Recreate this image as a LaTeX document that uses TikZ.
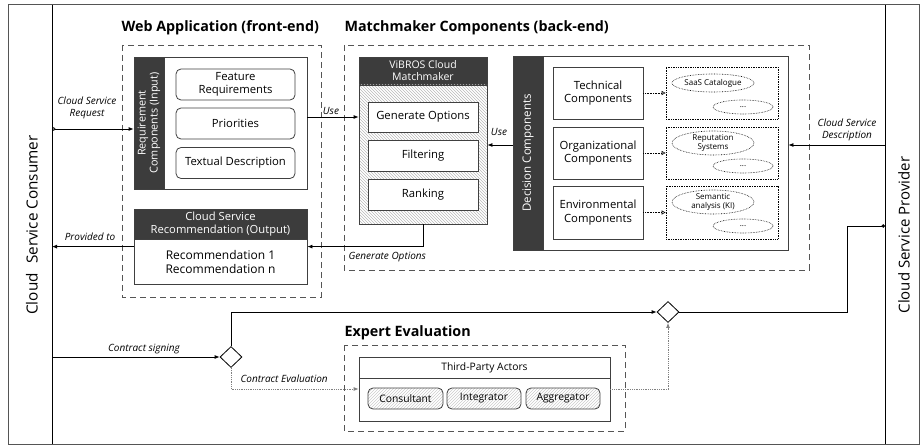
\documentclass[tikz,border=0pt]{standalone}
\usepackage{fontspec}
\setmainfont{Open Sans}
\usetikzlibrary{arrows.meta,shapes.geometric,patterns,calc}
\definecolor{hdr}{HTML}{3C3C3C}
\definecolor{bd}{HTML}{404040}
\definecolor{dsh}{HTML}{555555}
\begin{document}
\begin{tikzpicture}[x=1pt,y=-1pt,
  box/.style={draw=bd, line width=0.8pt, fill=white, inner sep=1pt, align=center, font=\fontsize{11.3}{13.3}\selectfont},
  rbox/.style={box, rounded corners=5pt},
  hdrbox/.style={draw=bd, line width=0.8pt, fill=hdr, text=white, align=center, inner sep=1pt},
  grp/.style={draw=dsh, dash pattern=on 6pt off 4pt, line width=0.9pt},
  ttl/.style={font=\bfseries\fontsize{14.3}{16}\selectfont, anchor=west},
  lbl/.style={font=\itshape\fontsize{10}{12.5}\selectfont, align=center},
  arr/.style={-{Latex[length=5pt,width=4pt]}, line width=0.8pt},
  dotarr/.style={densely dotted, line width=0.6pt, -{Triangle[open,length=4pt,width=4pt]}},
  ell/.style={draw, densely dotted, line width=0.6pt, ellipse, inner sep=0pt, font=\fontsize{8}{8.5}\selectfont, align=center},
  dbox/.style={draw, densely dotted, line width=0.7pt, minimum width=112pt, minimum height=52pt},
  hatch/.style={pattern=north west lines, pattern color=gray!55},
  hatch2/.style={pattern=north east lines, pattern color=gray!40},
]
\useasboundingbox (0,0) rectangle (920,446);
% outer frame and lanes
\draw[dsh, line width=1pt] (8,5) rectangle (919,444);
\coordinate (laneCt) at (52,5);
\coordinate (laneCb) at (52,444);
\coordinate (lanePt) at (885,5);
\coordinate (lanePb) at (885,444);
\draw[line width=0.9pt] (laneCt) -- (laneCb);
\draw[line width=0.9pt] (lanePt) -- (lanePb);
\node[rotate=90, font=\fontsize{15.3}{18}\selectfont] (consumer) at (32,225) {Cloud\hspace{0.6em}Service Consumer};
\node[rotate=90, font=\fontsize{15}{18}\selectfont] (provider) at (904,235) {Cloud Service Provider};

% Web application
\node[ttl] (webttl) at (118,28) {Web Application (front-end)};
\draw[grp] (122,45) rectangle (321,297);
\node[box, minimum width=173pt, minimum height=132pt] (req) at (220.5,123) {};
\node[hdrbox, rotate=90, minimum width=132pt, minimum height=30pt, font=\fontsize{10.8}{12}\selectfont] (reqbar) at (149,123) {Requirement\\Components (Input)};
\node[rbox, minimum width=119pt, minimum height=31pt] (feat) at (235.5,84.5) {Feature\\Requirements};
\node[rbox, minimum width=119pt, minimum height=31pt] (prio) at (235.5,123.5) {Priorities};
\node[rbox, minimum width=119pt, minimum height=31pt] (textd) at (235.5,163) {Textual Description};
\node[hdrbox, minimum width=173pt, minimum height=30pt, font=\fontsize{11.2}{13}\selectfont] (rechead) at (220.5,224) {Cloud Service\\Recommendation (Output)};
\node[box, minimum width=173pt, minimum height=45pt, font=\fontsize{12}{14}\selectfont] (recbody) at (220.5,261.5) {Recommendation 1\\Recommendation n};

% Matchmaker components
\node[ttl] (mmttl) at (341,28) {Matchmaker Components (back-end)};
\draw[grp] (344,45) rectangle (809,270);
\node[hdrbox, minimum width=128pt, minimum height=28pt, font=\fontsize{10.5}{12}\selectfont] (vihead) at (423,71) {ViBROS Cloud\\Matchmaker};
\node[draw=bd, line width=0.8pt, hatch, minimum width=128pt, minimum height=139pt] (vibody) at (423,154.5) {};
\node[box, minimum width=110pt, minimum height=30pt] (gen) at (423,117) {Generate Options};
\node[box, minimum width=110pt, minimum height=31pt] (filt) at (423,155.5) {Filtering};
\node[box, minimum width=110pt, minimum height=31pt] (rank) at (423,194.5) {Ranking};

\node[box, minimum width=245pt, minimum height=194pt] (decbox) at (665.5,153) {};
\node[hdrbox, rotate=90, minimum width=194pt, minimum height=30pt, font=\fontsize{11.5}{13}\selectfont] (decbar) at (528,153) {Decision Components};
\node[box, minimum width=90pt, minimum height=52pt] (tech) at (598,93) {Technical\\Components};
\node[box, minimum width=90pt, minimum height=52pt] (org) at (598,153) {Organizational\\Components};
\node[box, minimum width=90pt, minimum height=53pt] (env) at (598,212.5) {Environmental\\Components};
\node[dbox] (d1box) at (722,93) {};
\node[dbox] (d2box) at (722,153) {};
\node[dbox, minimum height=53pt] (d3box) at (722,212.5) {};
\node[ell, minimum width=82pt, minimum height=18pt] (e1) at (713,83) {SaaS Catalogue};
\node[ell, minimum width=60pt, minimum height=14pt] (e1b) at (743,107) {...};
\node[ell, minimum width=82pt, minimum height=24pt] (e2) at (713,143) {Reputation\\Systems};
\node[ell, minimum width=60pt, minimum height=14pt] (e2b) at (743,166) {...};
\node[ell, minimum width=82pt, minimum height=24pt] (e3) at (713,202) {Semantic\\analysis (KI)};
\node[ell, minimum width=60pt, minimum height=14pt] (e3b) at (743,226) {...};
\draw[dotarr] (tech.east) -- (d1box.west);
\draw[dotarr] (org.east) -- (d2box.west);
\draw[dotarr] (env.east) -- (d3box.west);

% Expert evaluation
\node[ttl] (exttl) at (341,333) {Expert Evaluation};
\draw[grp] (344,345) rectangle (625,431);
\node[draw=bd, line width=0.8pt, minimum width=251pt, minimum height=64pt] (tp) at (484.5,389) {};
\node[draw=bd, line width=0.8pt, minimum width=251pt, minimum height=21pt, font=\fontsize{10.3}{12}\selectfont] (tphead) at (484.5,367.5) {Third-Party Actors};
\node[rbox, hatch2, minimum width=75pt, minimum height=21pt, font=\fontsize{10.3}{12}\selectfont] (cons) at (405.5,398.5) {Consultant};
\node[rbox, hatch2, minimum width=74pt, minimum height=21pt, font=\fontsize{10.3}{12}\selectfont] (integ) at (484,398.5) {Integrator};
\node[rbox, hatch2, minimum width=74pt, minimum height=21pt, font=\fontsize{10.3}{12}\selectfont] (aggr) at (563,398.5) {Aggregator};

% diamonds
\node[draw, diamond, line width=0.8pt, minimum width=22pt, minimum height=21pt, inner sep=0pt, fill=white] (dia1) at (231,357) {};
\node[draw, diamond, line width=0.8pt, minimum width=22pt, minimum height=21pt, inner sep=0pt, fill=white] (dia2) at (668,312) {};

% connectors
\coordinate (csreq) at (52,129);
\draw[arr, {Circle[open,length=3.5pt]}-{Latex[length=5pt,width=4pt]}] (csreq) -- (csreq -| req.west);
\node[lbl] (csreql) at (87,108) {Cloud Service\\Request};

\draw[arr] (req.east |- gen) -- (vibody.west |- gen);
\node[lbl] (use1) at (331,111) {Use};

\draw[arr] (decbar.north |- 0,145) -- (vibody.east |- 0,145);
\node[lbl] (use2) at (499,132) {Use};

\draw[arr] (vibody.south) |- ($(recbody.north east)+(0,8)$);
\node[lbl, anchor=west] (genl) at (345,257) {Generate Options};

\draw[arr] ($(recbody.north west)+(0,8)$) -- ($(laneCt |- recbody.north)+(0,8)$);
\node[lbl] (provl) at (90,237) {Provided to};

\coordinate (pdesc) at (885,145);
\draw[arr] (pdesc) -- (pdesc -| decbox.east);
\node[lbl] (pdescl) at (847,130) {Cloud Service\\Description};

\coordinate (csign) at (52,357);
\draw[arr] (csign) -- (dia1.west);
\node[lbl] (csignl) at (144,349) {Contract signing};

\draw[arr] (dia1.north) |- (dia2.west);
\coordinate (pdot) at (885,226);
\draw[line width=0.8pt, -{Circle[length=3.5pt]}] (dia2.east) -| ($(pdot)+(-38,0)$) -- (pdot);

\draw[arr, densely dotted, draw=gray] (dia1.south) |- (tp.west);
\node[lbl, anchor=west] (cevl) at (237,379) {Contract Evaluation};
\draw[arr, densely dotted, draw=gray] (tp.east) -| (dia2.south);
\end{tikzpicture}
\end{document}
